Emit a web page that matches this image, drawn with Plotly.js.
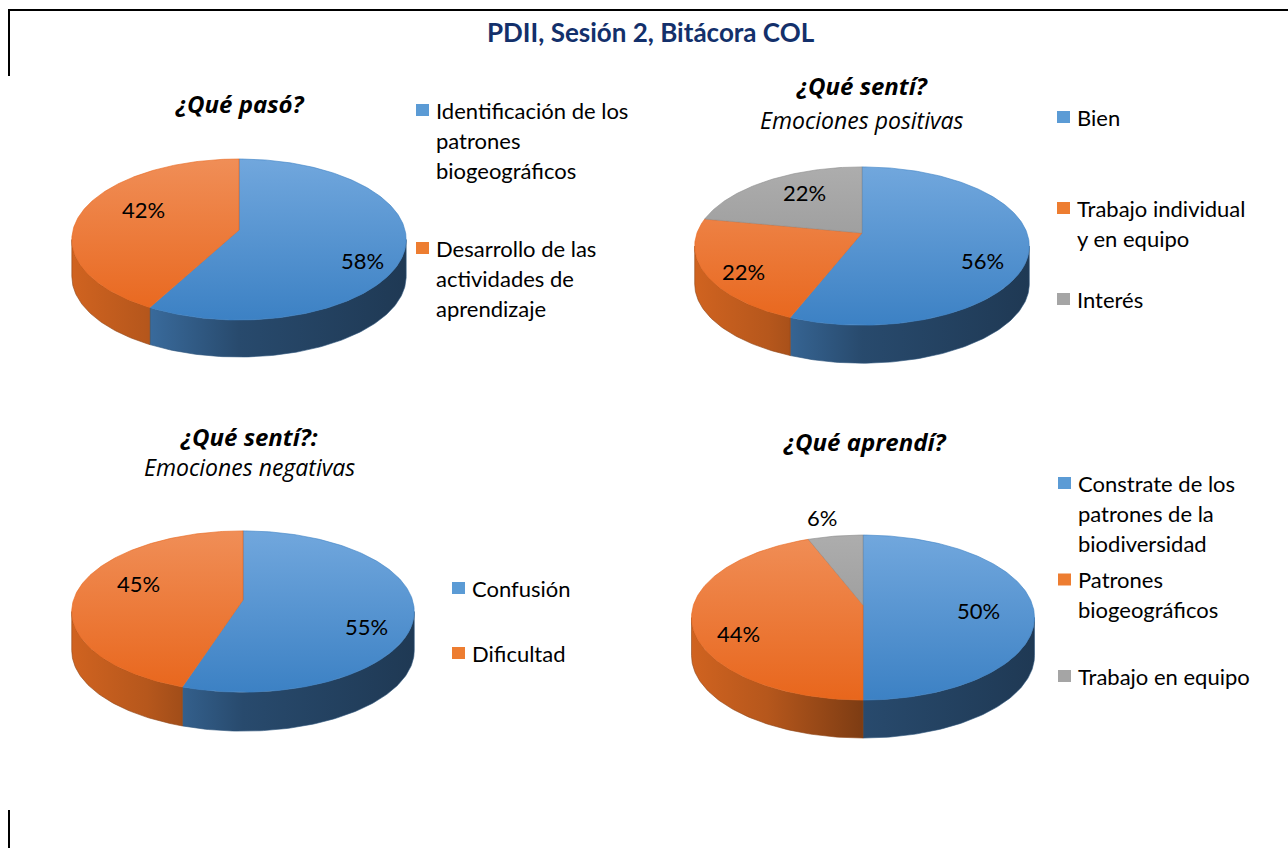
<!DOCTYPE html>
<html><head><meta charset="utf-8">
<script src="https://cdn.plot.ly/plotly-3.0.1.min.js"></script>
<style>html,body{margin:0;padding:0;background:#fff;overflow:hidden}</style>
</head><body><div id="chart" style="width:1288px;height:848px"></div>
<script>
// ---------------- data ----------------
const chartTitle = "PDII, Sesión 2, Bitácora COL";

const pasoTitle = "¿Qué pasó?";
const pasoLabels = ["Identificación de los<br>patrones<br>biogeográficos", "Desarrollo de las<br>actividades de<br>aprendizaje"];
const pasoValues = [58, 42];

const positivasTitle = "¿Qué sentí?";
const positivasSubtitle = "Emociones positivas";
const positivasLabels = ["Bien", "Trabajo individual<br>y en equipo", "Interés"];
const positivasValues = [56, 22, 22];

const negativasTitle = "¿Qué sentí?:";
const negativasSubtitle = "Emociones negativas";
const negativasLabels = ["Confusión", "Dificultad"];
const negativasValues = [55, 45];

const aprendiTitle = "¿Qué aprendí?";
const aprendiLabels = ["Constrate de los<br>patrones de la<br>biodiversidad", "Patrones<br>biogeográficos", "Trabajo en equipo"];
const aprendiValues = [50, 44, 6];

// ---------------- styles / layout config ----------------
const FONT = "Lato, 'Open Sans', 'Noto Sans', sans-serif";
const TFONT = "'Open Sans', 'Noto Sans', sans-serif";
const palette = [
  {top: ['#71a7dd', '#3c81c4'], base: [75, 140, 205], key: '#5b9bd5'},
  {top: ['#f08e57', '#e8661c'], base: [236, 113, 36], key: '#ed7d31'},
  {top: ['#adadad', '#8d8d8d'], base: [165, 165, 165], key: '#a5a5a5'}
];
const sideShade = [[0, 0.88], [0.22, 0.77], [0.5, 0.53], [1, 0.41]];

// cx, cy: projected pie centre; rx, ry: radii; k: perspective strength; depth: slab height (px)
const panels = [
  {title: pasoTitle, subtitle: null, labels: pasoLabels, values: pasoValues,
   cx: 239, cy: 230, rx: 166, ry: 79.4, k: 0.118, depth: 37, titleX: 240, titleY: 103,
   legendX: 416, legendY: 110, legendStep: 138},
  {title: positivasTitle, subtitle: positivasSubtitle, labels: positivasLabels, values: positivasValues,
   cx: 862, cy: 233, rx: 165, ry: 77, k: 0.165, depth: 38, titleX: 862, titleY: 85, subY: 120,
   legendX: 1057, legendY: 117, legendStep: 91},
  {title: negativasTitle, subtitle: negativasSubtitle, labels: negativasLabels, values: negativasValues,
   cx: 243, cy: 600, rx: 169.5, ry: 79, k: 0.143, depth: 39, titleX: 249, titleY: 436, subY: 467,
   legendX: 452, legendY: 588, legendStep: 65},
  {title: aprendiTitle, subtitle: null, labels: aprendiLabels, values: aprendiValues,
   cx: 863, cy: 605, rx: 169.5, ry: 80.6, k: 0.152, depth: 38, titleX: 865, titleY: 441,
   legendX: 1058, legendY: 483, legendStep: 96.5}
];

function rgb(c, f) {
  return 'rgb(' + c.map(v => Math.round(v * f)).join(',') + ')';
}
// project a point of the unit disc (angle t clockwise from top, radius r) to the page
function proj(p, tDeg, r) {
  const t = tDeg * Math.PI / 180;
  const u = r * Math.sin(t), v = -r * Math.cos(t);
  const w = 1 - p.k * v;
  return [p.cx + p.rx * u / w, p.cy + p.ry * v / w];
}
function arc(p, a0, a1, dy) {
  const n = Math.max(2, Math.ceil(Math.abs(a1 - a0)) + 1);
  const xs = [], ys = [];
  for (let i = 0; i < n; i++) {
    const q = proj(p, a0 + (a1 - a0) * i / (n - 1), 1);
    xs.push(q[0]); ys.push(q[1] + dy);
  }
  return {xs, ys};
}
// best-fit style placement of the percentage label for a slice
function labelPos(p, midDeg, pct) {
  const t = midDeg * Math.PI / 180;
  const u = Math.sin(t), v = -Math.cos(t);
  if (pct < 10) return [p.cx + p.rx * 1.3 * u, p.cy + p.ry * 1.1 * v];
  const fx = Math.min(0.82, Math.max(0.55, 0.68 + 0.35 * v));
  const sg = Math.abs(v) < 0.01 ? 0 : Math.sign(v);
  return [p.cx + p.rx * fx * u, p.cy + 5 + p.ry * (0.5 * v + 0.2 * sg)];
}

const traces = [];
const annotations = [];
const shapes = [];

panels.forEach(p => {
  const total = p.values.reduce((a, b) => a + b, 0);
  const halfW = p.rx / Math.sqrt(1 - p.k * p.k);
  const topY = p.cy - p.ry / (1 + p.k), botY = p.cy + p.ry / (1 - p.k);
  const tA = Math.acos(-p.k) * 180 / Math.PI, tB = 360 - tA;
  let acc = 0;
  const slices = p.values.map((v, i) => {
    const a0 = acc / total * 360;
    acc += v;
    const a1 = acc / total * 360;
    return {a0, a1, v, i};
  });
  // side faces (front silhouette only)
  slices.forEach(s => {
    const st = Math.max(s.a0, tA), en = Math.min(s.a1, tB);
    if (en <= st) return;
    const col = palette[s.i];
    const top = arc(p, st, en, 0);
    const bot = arc(p, en, st, p.depth);
    traces.push({
      type: 'scatter', mode: 'lines', hoverinfo: 'skip',
      x: top.xs.concat(bot.xs, [top.xs[0]]),
      y: top.ys.concat(bot.ys, [top.ys[0]]),
      fill: 'toself', line: {width: 0.6, color: rgb(col.base, 0.6)},
      fillcolor: rgb(col.base, 0.6),
      fillgradient: {type: 'horizontal', start: p.cx - halfW, stop: p.cx + halfW,
        colorscale: sideShade.map(([u, f]) => [u, rgb(col.base, f)])}
    });
  });
  // top faces
  slices.forEach(s => {
    const col = palette[s.i];
    const a = arc(p, s.a0, s.a1, 0);
    traces.push({
      type: 'scatter', mode: 'lines', hoverinfo: 'skip',
      x: [p.cx].concat(a.xs, [p.cx]),
      y: [p.cy].concat(a.ys, [p.cy]),
      fill: 'toself', line: {width: 0.6, color: col.top[1]},
      fillcolor: col.top[1],
      fillgradient: {type: 'vertical', start: topY, stop: botY,
        colorscale: [[0, col.top[0]], [1, col.top[1]]]}
    });
    // percentage label
    const pct = s.v / total * 100;
    const lp = labelPos(p, (s.a0 + s.a1) / 2, pct);
    annotations.push({
      x: lp[0], y: lp[1],
      xref: 'x', yref: 'y', showarrow: false, text: Math.round(pct) + '%',
      font: {family: FONT, size: 22, color: '#000'}
    });
  });
  // titles
  annotations.push({x: p.titleX, y: p.titleY, xref: 'x', yref: 'y', showarrow: false,
    text: '<b><i>' + p.title + '</i></b>', font: {family: TFONT, size: 24, color: '#000'}});
  if (p.subtitle) {
    annotations.push({x: p.titleX, y: p.subY, xref: 'x', yref: 'y', showarrow: false,
      text: '<i>' + p.subtitle + '</i>', font: {family: TFONT, size: 23, color: '#000'}});
  }
  // legend
  p.labels.forEach((lab, i) => {
    const y0 = p.legendY + i * p.legendStep;
    shapes.push({type: 'rect', xref: 'x', yref: 'y', x0: p.legendX, x1: p.legendX + 13,
      y0: y0 - 6, y1: y0 + 6, fillcolor: palette[i].key, line: {width: 0}});
    lab.split('<br>').forEach((line, j) => {
      annotations.push({x: p.legendX + 18, y: y0 + j * 30, xref: 'x', yref: 'y',
        xanchor: 'left', showarrow: false, text: line,
        font: {family: FONT, size: 22, color: '#000'}});
    });
  });
});

annotations.push({x: 651, y: 32, xref: 'x', yref: 'y', showarrow: false,
  text: '<b>' + chartTitle + '</b>', font: {family: FONT, size: 26, color: '#13306b'}});

// frame lines
shapes.push({type: 'line', xref: 'x', yref: 'y', x0: 8, x1: 1288, y0: 10, y1: 10, line: {color: '#000', width: 2}});
shapes.push({type: 'line', xref: 'x', yref: 'y', x0: 9, x1: 9, y0: 10, y1: 76, line: {color: '#000', width: 2}});
shapes.push({type: 'line', xref: 'x', yref: 'y', x0: 9, x1: 9, y0: 810, y1: 848, line: {color: '#000', width: 2}});

Plotly.newPlot('chart', traces, {
  width: 1288, height: 848,
  margin: {l: 0, r: 0, t: 0, b: 0},
  paper_bgcolor: '#fff', plot_bgcolor: '#fff',
  showlegend: false,
  xaxis: {range: [0, 1288], visible: false, fixedrange: true},
  yaxis: {range: [848, 0], visible: false, fixedrange: true},
  annotations, shapes
}, {staticPlot: true, displayModeBar: false});
</script></body></html>
